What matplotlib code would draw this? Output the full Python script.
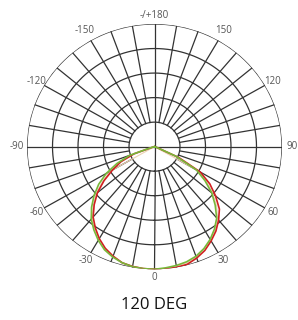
import numpy as np
import matplotlib
matplotlib.use("Agg")
import matplotlib.pyplot as plt

# angle (deg, 0 = straight down, positive to the right) and relative intensity
angles = [-90, -80, -75, -70, -65, -60, -55, -50, -45, -40, -35, -30, -25, -20, -15, -10, -5,
          0, 5, 10, 15, 20, 25, 30, 35, 40, 45, 50, 55, 60, 65, 70, 75, 80, 90]
green = [0, 0, 0.02, 0.21, 0.325, 0.437, 0.534, 0.619, 0.698, 0.772, 0.829, 0.882, 0.928,
         0.958, 0.980, 0.994, 0.998,
         1.0, 0.992, 0.984, 0.972, 0.951, 0.917, 0.873, 0.820, 0.759, 0.673, 0.586, 0.483,
         0.380, 0.19, 0.02, 0, 0, 0]
red = [0, 0, 0.01, 0.17, 0.29, 0.38, 0.483, 0.584, 0.669, 0.749, 0.809, 0.866, 0.914,
       0.950, 0.980, 0.992, 0.998,
       1.0, 1.0, 0.999, 0.993, 0.967, 0.934, 0.888, 0.840, 0.782, 0.720, 0.625, 0.530,
       0.415, 0.21, 0.02, 0, 0, 0]
tan = [0, 0, 0, 0, 0, 0.40, 0.50, 0.60, 0.68, 0.76, 0.82, 0.87, 0.92,
       0.95, 0.98, 0.99, 1.0,
       1.0, 1.0, 0.99, 0.98, 0.96, 0.92, 0.88, 0.83, 0.77, 0.69, 0.60, 0.50,
       0.40, 0, 0, 0, 0, 0]

rings = [0.2, 0.4, 0.6, 0.8, 1.0]
tick_angles = [0, 30, 60, 90, 120, 150, 180, -30, -60, -90, -120, -150]
tick_labels = ["0", "30", "60", "90", "120", "150", "-/+180", "-30", "-60", "-90", "-120", "-150"]
title = "120 DEG"

fig = plt.figure(figsize=(2.98, 3.2), dpi=100)
ax = fig.add_axes([27 / 298, (320 - 269.3) / 320, 255 / 298, 245.3 / 320], projection="polar")
ax.set_aspect("auto")
ax.set_theta_zero_location("S")
ax.set_theta_direction(1)
ax.set_ylim(0, 1.0)
ax.grid(False)
ax.set_xticks([])
ax.set_yticks([])
ax.spines["polar"].set_visible(False)
ax.patch.set_visible(False)

grid_kw = dict(color="#333333", lw=0.9, zorder=1)
circ = np.linspace(0, 2 * np.pi, 721)
for r in rings:
    ax.plot(circ, np.full_like(circ, r), **grid_kw)
for a in range(0, 360, 10):
    r0 = 0 if a % 90 == 0 else rings[0]
    ax.plot([np.radians(a)] * 2, [r0, 1.0], **grid_kw)

th = np.radians(angles)
ax.plot(th, tan, color="#ecd2b4", lw=0.8, zorder=2)
ax.plot(th, red, color="#d02020", lw=1.2, zorder=3)
ax.plot(th, green, color="#78b83a", lw=1.2, zorder=4)

for a, lab in zip(tick_angles, tick_labels):
    r = 1.07
    if abs(a) == 150:
        r = 1.09
    if abs(a) == 90:
        r = 1.08
    ax.text(np.radians(a), r, lab, ha="center", va="center", fontsize=7,
            color="#555555", family="Open Sans", clip_on=False)

fig.text(0.517, 0.047, title, ha="center", va="center", fontsize=12,
         color="#111111", family="Open Sans")

fig.savefig("out.png", dpi=100)
